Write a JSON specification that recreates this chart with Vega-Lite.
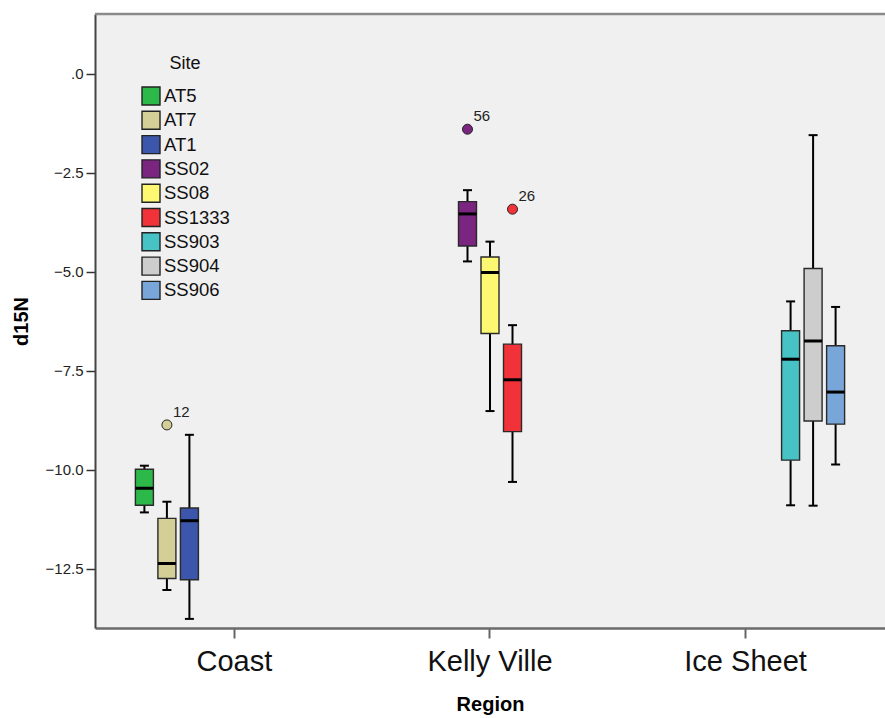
{
  "$schema": "https://vega.github.io/schema/vega-lite/v6.json",
  "width": 790,
  "height": 614,
  "autosize": {"type": "none"},
  "padding": {"left": 95, "top": 14, "right": 0, "bottom": 90},
  "background": "white",
  "config": {
    "view": {"fill": "#f0f0f0", "stroke": null},
    "font": "Liberation Sans",
    "axis": {"grid": false},
    "tick": {"opacity": 1},
    "axisY": {
      "labelFontSize": 15, "labelColor": "#222",
      "tickSize": 9, "tickColor": "#333", "tickWidth": 1.5,
      "domainColor": "#444", "domainWidth": 2, "labelPadding": 3,
      "titleFontSize": 20, "titleFontWeight": "bold", "titleColor": "#000", "titlePadding": 14
    }
  },
  "datasets": {
    "boxes": [
      {"region": "Coast", "site": "AT5", "lo": -11.08, "q1": -10.90, "med": -10.47, "q3": -9.99, "hi": -9.90},
      {"region": "Coast", "site": "AT7", "lo": -13.04, "q1": -12.75, "med": -12.37, "q3": -11.23, "hi": -10.81},
      {"region": "Coast", "site": "AT1", "lo": -13.77, "q1": -12.78, "med": -11.29, "q3": -10.97, "hi": -9.12},
      {"region": "Kelly Ville", "site": "SS02", "lo": -4.74, "q1": -4.35, "med": -3.54, "q3": -3.23, "hi": -2.94},
      {"region": "Kelly Ville", "site": "SS08", "lo": -8.52, "q1": -6.56, "med": -5.02, "q3": -4.63, "hi": -4.24},
      {"region": "Kelly Ville", "site": "SS1333", "lo": -10.31, "q1": -9.04, "med": -7.73, "q3": -6.83, "hi": -6.35},
      {"region": "Ice Sheet", "site": "SS903", "lo": -10.90, "q1": -9.76, "med": -7.21, "q3": -6.49, "hi": -5.75},
      {"region": "Ice Sheet", "site": "SS904", "lo": -10.91, "q1": -8.77, "med": -6.75, "q3": -4.92, "hi": -1.55},
      {"region": "Ice Sheet", "site": "SS906", "lo": -9.87, "q1": -8.85, "med": -8.04, "q3": -6.87, "hi": -5.89}
    ],
    "outliers": [
      {"region": "Coast", "site": "AT7", "value": -8.87, "label": "12"},
      {"region": "Kelly Ville", "site": "SS02", "value": -1.40, "label": "56"},
      {"region": "Kelly Ville", "site": "SS1333", "value": -3.42, "label": "26"}
    ]
  },
  "layer": [
    {
      "data": {"name": "boxes"},
      "encoding": {
        "x": {
          "field": "region", "type": "nominal",
          "scale": {"domain": ["Coast", "Kelly Ville", "Ice Sheet"], "paddingInner": 0.049, "paddingOuter": 0.07},
          "axis": {
            "title": "Region", "labelAngle": 0, "labelFontSize": 29, "labelColor": "#111",
            "tickSize": 10, "tickColor": "#666", "tickWidth": 2,
            "domainColor": "#6b6b6b", "domainWidth": 2.5, "labelPadding": 9,
            "titleFontSize": 20, "titleFontWeight": "bold", "titleColor": "#000", "titlePadding": 18
          }
        },
        "xOffset": {
          "field": "site", "type": "nominal",
          "scale": {"domain": ["AT5", "AT7", "AT1", "SS02", "SS08", "SS1333", "SS903", "SS904", "SS906"], "paddingInner": 0.2, "paddingOuter": 1}
        }
      },
      "layer": [
        {
          "mark": {"type": "rule", "color": "#000", "strokeWidth": 2, "opacity": 1},
          "encoding": {
            "y": {
              "field": "lo", "type": "quantitative",
              "scale": {"domain": [-14.0, 1.51], "nice": false, "zero": false},
              "axis": {"title": "d15N", "values": [-12.5, -10, -7.5, -5, -2.5, 0], "labelExpr": "datum.value == 0 ? '.0' : format(datum.value, '.1f')"}
            },
            "y2": {"field": "hi"}
          }
        },
        {
          "mark": {"type": "tick", "color": "#000", "size": 9, "thickness": 2, "opacity": 1},
          "encoding": {"y": {"field": "lo", "type": "quantitative", "scale": {"domain": [-14.0, 1.51], "nice": false, "zero": false},
            "axis": {"title": "d15N", "values": [-12.5, -10, -7.5, -5, -2.5, 0], "labelExpr": "datum.value == 0 ? '.0' : format(datum.value, '.1f')"}}}
        },
        {
          "mark": {"type": "tick", "color": "#000", "size": 9, "thickness": 2, "opacity": 1},
          "encoding": {"y": {"field": "hi", "type": "quantitative", "scale": {"domain": [-14.0, 1.51], "nice": false, "zero": false},
            "axis": {"title": "d15N", "values": [-12.5, -10, -7.5, -5, -2.5, 0], "labelExpr": "datum.value == 0 ? '.0' : format(datum.value, '.1f')"}}}
        },
        {
          "mark": {"type": "bar", "stroke": "#2a2a2a", "strokeWidth": 1.4, "opacity": 1},
          "encoding": {
            "y": {"field": "q1", "type": "quantitative", "scale": {"domain": [-14.0, 1.51], "nice": false, "zero": false},
              "axis": {"title": "d15N", "values": [-12.5, -10, -7.5, -5, -2.5, 0], "labelExpr": "datum.value == 0 ? '.0' : format(datum.value, '.1f')"}},
            "y2": {"field": "q3"},
            "fill": {
              "field": "site", "type": "nominal",
              "scale": {
                "domain": ["AT5", "AT7", "AT1", "SS02", "SS08", "SS1333", "SS903", "SS904", "SS906"],
                "range": ["#2db84a", "#d3cf97", "#3c56ab", "#7a2580", "#fcf871", "#f13339", "#47c3c6", "#cdcdcd", "#79a6d8"]
              },
              "legend": {
                "title": "Site", "orient": "none", "legendX": 46, "legendY": 41,
                "symbolType": "square", "symbolSize": 324, "symbolStrokeColor": "#222", "symbolStrokeWidth": 1.4,
                "symbolOpacity": 1,
                "labelFontSize": 18.5, "labelColor": "#111", "titleFontSize": 18, "titleFontWeight": "normal", "titleColor": "#111",
                "titleAnchor": "middle", "rowPadding": 0.3, "labelOffset": 3, "titlePadding": 13, "padding": 0
              }
            }
          }
        },
        {
          "mark": {"type": "tick", "color": "#000", "size": 18, "thickness": 3, "opacity": 1},
          "encoding": {"y": {"field": "med", "type": "quantitative", "scale": {"domain": [-14.0, 1.51], "nice": false, "zero": false},
            "axis": {"title": "d15N", "values": [-12.5, -10, -7.5, -5, -2.5, 0], "labelExpr": "datum.value == 0 ? '.0' : format(datum.value, '.1f')"}}}
        }
      ]
    },
    {
      "data": {"name": "outliers"},
      "encoding": {
        "x": {"field": "region", "type": "nominal"},
        "xOffset": {"field": "site", "type": "nominal"},
        "y": {"field": "value", "type": "quantitative", "scale": {"domain": [-14.0, 1.51], "nice": false, "zero": false},
          "axis": {"title": "d15N", "values": [-12.5, -10, -7.5, -5, -2.5, 0], "labelExpr": "datum.value == 0 ? '.0' : format(datum.value, '.1f')"}}
      },
      "layer": [
        {
          "mark": {"type": "point", "shape": "circle", "filled": true, "size": 100, "stroke": "#222", "strokeWidth": 1, "opacity": 1},
          "encoding": {"fill": {"field": "site", "type": "nominal", "legend": null}}
        },
        {
          "mark": {"type": "text", "align": "left", "baseline": "alphabetic", "dx": 6, "dy": -8, "fontSize": 15, "color": "#222"},
          "encoding": {"text": {"field": "label"}}
        }
      ]
    },
    {
      "data": {"values": [{}]},
      "mark": {"type": "rule", "color": "#8a8a8a", "strokeWidth": 2.5},
      "encoding": {"y": {"datum": 1.51, "type": "quantitative", "scale": {"domain": [-14.0, 1.51], "nice": false, "zero": false},
        "axis": {"title": "d15N", "values": [-12.5, -10, -7.5, -5, -2.5, 0], "labelExpr": "datum.value == 0 ? '.0' : format(datum.value, '.1f')"}}}
    }
  ]
}
